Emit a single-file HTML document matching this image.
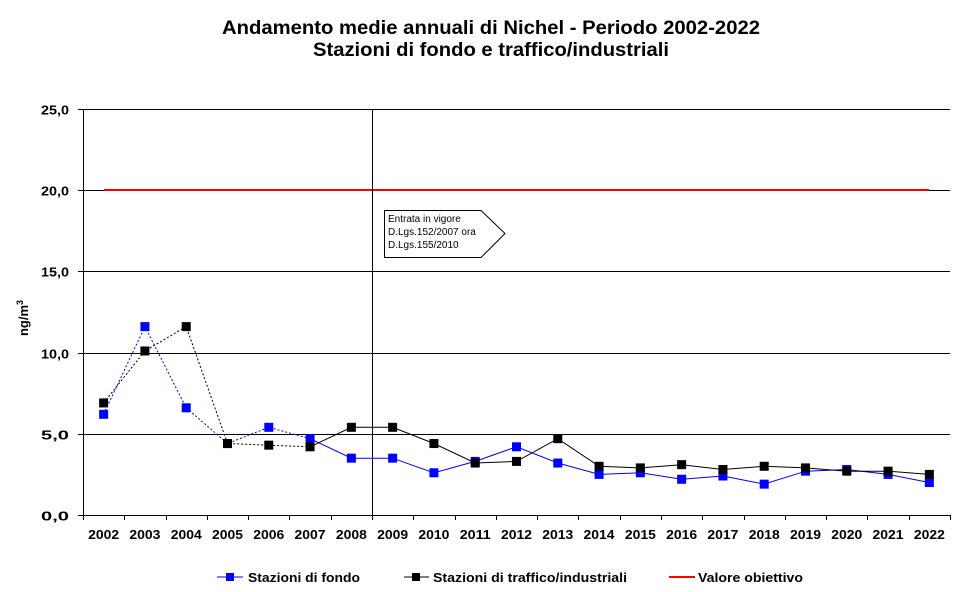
<!DOCTYPE html>
<html><head><meta charset="utf-8"><style>
html,body{margin:0;padding:0;background:#fff;width:960px;height:592px;overflow:hidden}
svg{display:block;font-family:"Liberation Sans",Arial,sans-serif}
</style></head><body>
<svg id="c" width="960" height="592" viewBox="0 0 960 592" xmlns="http://www.w3.org/2000/svg">
<text x="222" y="34" font-size="19" font-weight="bold" textLength="538" lengthAdjust="spacingAndGlyphs">Andamento medie annuali di Nichel - Periodo 2002-2022</text>
<text x="313" y="56" font-size="19" font-weight="bold" textLength="356" lengthAdjust="spacingAndGlyphs">Stazioni di fondo e traffico/industriali</text>
<g id="grid" stroke="#000" stroke-width="1"></g>
<g id="lbl" font-size="13" font-weight="bold"></g>
<text transform="translate(28,318) rotate(-90)" text-anchor="middle" font-size="13" font-weight="bold">ng/m<tspan dy="-5" font-size="9">3</tspan></text>
<line x1="104" y1="190" x2="929" y2="190" stroke="#f00" stroke-width="2"/>
<line x1="372.5" y1="109" x2="372.5" y2="515" stroke="#000" stroke-width="1"/>
<path d="M384.5,210.5 H481 L505,233.5 L481,257.5 H384.5 Z" fill="#fff" stroke="#000" stroke-width="1"/>
<g font-size="10"><text x="388" y="222">Entrata in vigore</text><text x="388" y="235">D.Lgs.152/2007 ora</text><text x="388" y="248">D.Lgs.155/2010</text></g>
<g id="ser"></g>
<g font-size="13" font-weight="bold">
<line x1="217" y1="577" x2="243" y2="577" stroke="#00f"/><rect x="226" y="573" width="8" height="8" fill="#00f"/>
<text x="248" y="582" textLength="112" lengthAdjust="spacingAndGlyphs">Stazioni di fondo</text>
<line x1="404" y1="577" x2="429" y2="577" stroke="#000"/><rect x="412" y="573" width="8" height="8" fill="#000"/>
<text x="433" y="582" textLength="194" lengthAdjust="spacingAndGlyphs">Stazioni di traffico/industriali</text>
<line x1="669" y1="577" x2="695" y2="577" stroke="#f00" stroke-width="2"/>
<text x="698" y="582" textLength="105" lengthAdjust="spacingAndGlyphs">Valore obiettivo</text>
</g>
</svg>
<script>
var ns="http://www.w3.org/2000/svg",L=83,R=950,T=109,B=515,w=(R-L)/21;
function el(p,t,a,txt){var e=document.createElementNS(ns,t);for(var k in a)e.setAttribute(k,a[k]);if(txt!=null)e.textContent=txt;document.getElementById(p).appendChild(e);return e;}
for(var i=0;i<=5;i++){var y=Math.round(B-i*(B-T)/5)+0.5;el("grid","line",{x1:L,y1:y,x2:R,y2:y});el("grid","line",{x1:L-5,y1:y,x2:L,y2:y});el("lbl","text",{x:41,y:y+5,textLength:28,lengthAdjust:"spacingAndGlyphs"},(i*5)+",0");}
el("grid","line",{x1:L+0.5,y1:T,x2:L+0.5,y2:B+5});
for(var i=0;i<=21;i++){var x=Math.round(L+i*w)+0.5;el("grid","line",{x1:x,y1:B,x2:x,y2:B+5});}
for(var i=0;i<21;i++)el("lbl","text",{x:L+w*(i+0.5)-15.5,y:539,textLength:31,lengthAdjust:"spacingAndGlyphs"},2002+i);
var bl=[6.2,11.6,6.6,4.4,5.4,4.7,3.5,3.5,2.6,3.3,4.2,3.2,2.5,2.6,2.2,2.4,1.9,2.7,2.8,2.5,2.0];
var bk=[6.9,10.1,11.6,4.4,4.3,4.2,5.4,5.4,4.4,3.2,3.3,4.7,3.0,2.9,3.1,2.8,3.0,2.9,2.7,2.7,2.5];
function px(i){return L+w*(i+0.5)}function py(v){return B-v*(B-T)/25}
function draw(d,c){var a="",b="";for(var i=0;i<21;i++){if(i<=5)a+=(i==0?"M":"L")+px(i).toFixed(1)+","+py(d[i]).toFixed(1);if(i>=5)b+=(i==5?"M":"L")+px(i).toFixed(1)+","+py(d[i]).toFixed(1);}
el("ser","path",{d:a,fill:"none",stroke:c,"stroke-dasharray":"2,2"});el("ser","path",{d:b,fill:"none",stroke:c});
for(var i=0;i<21;i++)el("ser","rect",{x:px(i)-4.5,y:py(d[i])-4.5,width:9,height:9,fill:c});}
draw(bl,"#00f");draw(bk,"#000");
</script>
</body></html>
